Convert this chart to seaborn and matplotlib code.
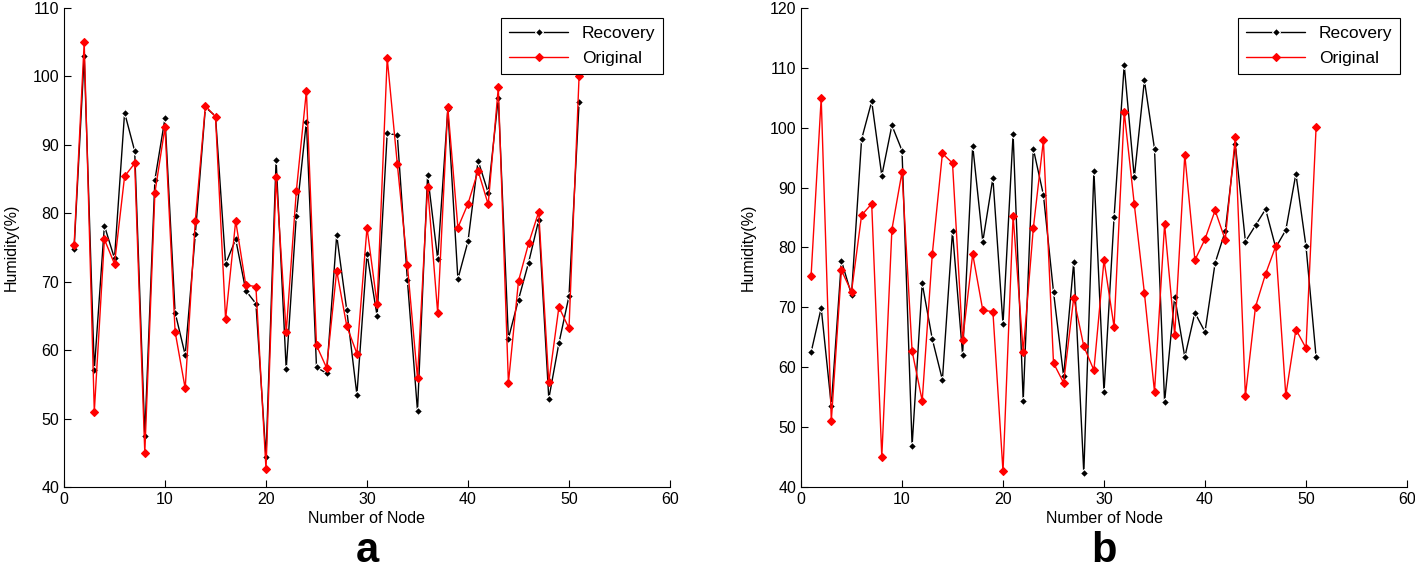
import numpy as np
import pandas as pd
import matplotlib
matplotlib.use("Agg")
import matplotlib.pyplot as plt
import seaborn as sns

nodes = list(range(1, 52))

original = [75.3, 105.0, 51.0, 76.2, 72.6, 85.4, 87.3, 45.0, 83.0, 92.6,
            62.7, 54.4, 78.9, 95.7, 94.1, 64.5, 78.9, 69.5, 69.3, 42.6,
            85.3, 62.6, 83.2, 97.9, 60.7, 57.4, 71.6, 63.5, 59.5, 77.9,
            66.7, 102.7, 87.2, 72.4, 55.9, 83.9, 65.4, 95.5, 77.9, 81.4,
            86.2, 81.3, 98.4, 55.2, 70.1, 75.6, 80.2, 55.3, 66.3, 63.2,
            100.1]

recovery_a = [74.8, 103.0, 57.1, 78.2, 73.4, 94.7, 89.1, 47.5, 84.9, 93.9,
              65.5, 59.3, 76.9, 95.5, 94.2, 72.6, 76.2, 68.7, 66.8, 44.4,
              87.8, 57.2, 79.6, 93.4, 57.5, 56.6, 76.8, 65.8, 53.5, 74.1,
              65.0, 91.7, 91.4, 70.2, 51.1, 85.6, 73.3, 95.2, 70.4, 75.9,
              87.7, 83.0, 96.9, 61.7, 67.4, 72.8, 79.0, 52.9, 61.0, 67.9,
              96.2]

recovery_b = [62.5, 69.9, 53.6, 77.8, 72.1, 98.1, 104.4, 92.0, 100.4, 96.2,
              46.9, 74.0, 64.7, 57.9, 82.7, 62.1, 97.0, 81.0, 91.6, 67.2,
              99.0, 54.4, 96.5, 88.8, 72.6, 58.5, 77.5, 42.3, 92.8, 55.8,
              85.1, 110.5, 91.7, 107.9, 96.5, 54.2, 71.8, 61.7, 69.1, 65.9,
              77.4, 82.7, 97.3, 81.0, 83.7, 86.4, 80.0, 82.9, 92.3, 80.2,
              61.7]

panel_labels = ["a", "b"]
x_ticks = [0, 10, 20, 30, 40, 50, 60]
y_ticks_a = [40, 50, 60, 70, 80, 90, 100, 110]
y_ticks_b = [40, 50, 60, 70, 80, 90, 100, 110, 120]

sns.set_style("ticks")
plt.rcParams['font.family'] = ['Liberation Sans', 'DejaVu Sans']
plt.rcParams['xtick.direction'] = 'in'
plt.rcParams['ytick.direction'] = 'in'
for k in ['text.color', 'axes.labelcolor', 'xtick.color', 'ytick.color',
          'xtick.labelcolor', 'ytick.labelcolor']:
    plt.rcParams[k] = 'black'

fig = plt.figure(figsize=(14.15, 5.81), dpi=100)
ax_a = fig.add_axes([64/1415, 1-487/581, (670-64)/1415, (487-8)/581])
ax_b = fig.add_axes([801/1415, 1-487/581, (1407-801)/1415, (487-8)/581])

panels = [(ax_a, recovery_a, y_ticks_a), (ax_b, recovery_b, y_ticks_b)]
for (ax, rec, yt), lab in zip(panels, panel_labels):
    sns.lineplot(x=nodes, y=rec, ax=ax, color="black", marker="D",
                 markersize=4, markeredgewidth=0.8, linewidth=1.0,
                 label="Recovery", sort=False, estimator=None)
    sns.lineplot(x=nodes, y=original, ax=ax, color="red", marker="D",
                 markersize=4, markeredgewidth=0.8, markeredgecolor="red",
                 linewidth=1.0, label="Original", sort=False, estimator=None)
    ax.set_xlim(0, 60)
    ax.set_ylim(yt[0], yt[-1])
    ax.set_xticks(x_ticks)
    ax.set_yticks(yt)
    ax.tick_params(labelsize=11.5, length=5, width=0.8, color="black")
    for s in ["top", "right"]:
        ax.spines[s].set_visible(False)
    for s in ["left", "bottom"]:
        ax.spines[s].set_color("black")
        ax.spines[s].set_linewidth(0.8)
    ax.set_xlabel("Number of Node", fontsize=11.5, labelpad=3)
    ax.set_ylabel("Humidity(%)", fontsize=11.5)
    leg = ax.legend(loc="upper right", bbox_to_anchor=(0.989, 0.979),
                    fontsize=12.5, frameon=True, fancybox=False,
                    edgecolor="black", framealpha=1, borderpad=0.45,
                    handlelength=3.4, labelspacing=0.55, borderaxespad=0)
    leg.get_frame().set_linewidth(0.8)
    leg.set_zorder(10)
    ax.text(0.5, -0.157, lab, transform=ax.transAxes, ha="center",
            va="baseline", fontsize=30, fontweight="bold")

ax_a.yaxis.set_label_coords(-0.075, 0.5)
ax_b.yaxis.set_label_coords(-0.075, 0.5)

fig.savefig("out.png", dpi=100)
